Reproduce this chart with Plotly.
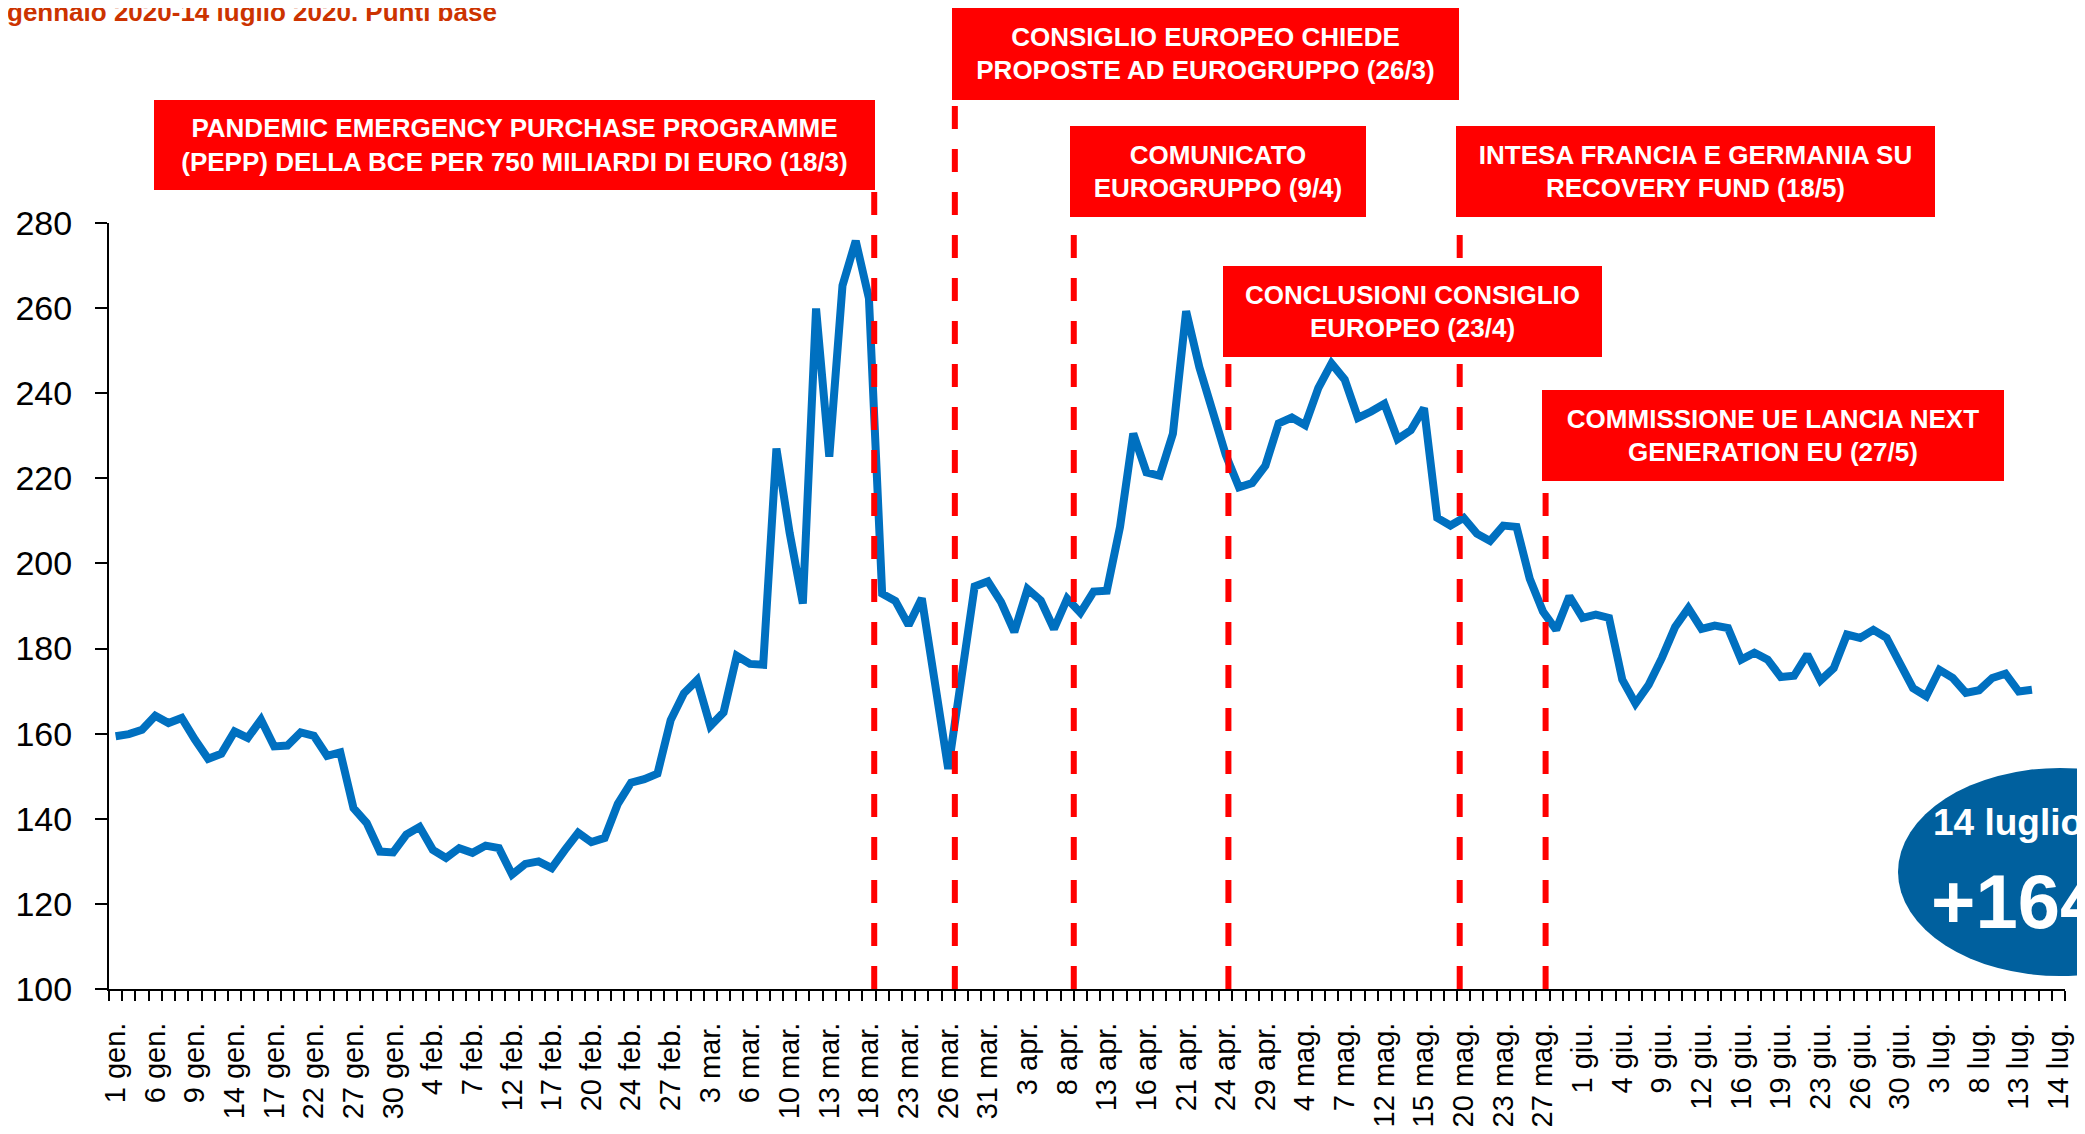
import plotly.graph_objects as go

# ---------------- data ----------------
spread = [
    159.4, 159.9, 160.9, 164.2, 162.5, 163.7, 158.6, 154.1, 155.3, 160.5,
    159.0, 163.3, 157.0, 157.2, 160.3, 159.5, 154.8, 155.6, 142.5, 139.0,
    132.3, 132.1, 136.3, 138.1, 132.7, 130.8, 133.1, 132.0, 133.7, 133.1,
    126.9, 129.4, 130.0, 128.4, 132.7, 136.7, 134.5, 135.5, 143.5, 148.5,
    149.3, 150.6, 163.2, 169.5, 172.6, 161.8, 165.0, 178.3, 176.4, 176.2,
    227.0, 207.2, 190.6, 259.9, 225.1, 265.3, 275.8, 262.3, 192.9, 191.2,
    185.5, 191.8, 171.8, 151.7, 173.2, 194.6, 195.8, 190.9, 183.9, 194.0,
    191.3, 184.6, 191.7, 188.4, 193.4, 193.6, 208.6, 230.5, 221.4, 220.6,
    230.5, 259.3, 246.1, 235.4, 225.5, 217.9, 218.9, 223.0, 232.9, 234.3,
    232.5, 241.2, 247.0, 243.2, 234.2, 235.7, 237.5, 229.2, 231.3, 236.5,
    210.7, 208.9, 210.7, 207.0, 205.3, 208.9, 208.6, 196.4, 188.7, 184.4,
    192.3, 187.2, 188.0, 187.2, 172.7, 167.1, 171.5, 177.8, 185.1, 189.5,
    184.6, 185.4, 184.8, 177.4, 179.0, 177.4, 173.3, 173.6, 178.6, 172.5,
    175.4, 183.3, 182.5, 184.4, 182.5, 176.6, 170.7, 168.8, 175.0, 173.1,
    169.6, 170.2, 173.1, 174.1, 169.9, 170.3,
]

tick_labels = [
    "1 gen.", "6 gen.", "9 gen.", "14 gen.", "17 gen.", "22 gen.", "27 gen.", "30 gen.",
    "4 feb.", "7 feb.", "12 feb.", "17 feb.", "20 feb.", "24 feb.", "27 feb.",
    "3 mar.", "6 mar.", "10 mar.", "13 mar.", "18 mar.", "23 mar.", "26 mar.", "31 mar.",
    "3 apr.", "8 apr.", "13 apr.", "16 apr.", "21 apr.", "24 apr.", "29 apr.",
    "4 mag.", "7 mag.", "12 mag.", "15 mag.", "20 mag.", "23 mag.", "27 mag.",
    "1 giu.", "4 giu.", "9 giu.", "12 giu.", "16 giu.", "19 giu.", "23 giu.", "26 giu.", "30 giu.",
    "3 lug.", "8 lug.", "13 lug.", "14 lug.",
]
label_step = 3
n_categories = 148

event_texts = [
    "PANDEMIC EMERGENCY PURCHASE PROGRAMME<br>(PEPP) DELLA BCE PER 750 MILIARDI DI EURO (18/3)",
    "CONSIGLIO EUROPEO CHIEDE<br>PROPOSTE AD EUROGRUPPO (26/3)",
    "COMUNICATO<br>EUROGRUPPO (9/4)",
    "CONCLUSIONI CONSIGLIO<br>EUROPEO (23/4)",
    "INTESA FRANCIA E GERMANIA SU<br>RECOVERY FUND (18/5)",
    "COMMISSIONE UE LANCIA NEXT<br>GENERATION EU (27/5)",
]
event_pos = [57.4, 63.5, 72.5, 84.2, 101.7, 108.2]  # category position of each event

title_text = "gennaio 2020-14 luglio 2020. Punti base"
badge_date = "14 luglio 2020"
badge_value = "+164"

# ---------------- layout geometry (pixels, in screenshot frame) ----------------
W, H = 2085, 1134
OFF = 8  # page body margin offset
PLOT_L, PLOT_R, PLOT_T, PLOT_B = 109, 2065, 223, 989
ML = PLOT_L - OFF
MT = PLOT_T - OFF
MR = W - (PLOT_R - OFF)
MB = H - (PLOT_B - OFF)
PW = PLOT_R - PLOT_L
PH = PLOT_B - PLOT_T

def xp(px):
    return (px - PLOT_L) / PW

def yp(py):
    return (PLOT_B - py) / PH

# red boxes: (left, top, right, bottom) in px, same order as event_texts
boxes = [
    (154, 100, 875, 190),
    (952, 7, 1459, 100),
    (1070, 126, 1366, 217),
    (1223, 266, 1602, 357),
    (1456, 126, 1935, 217),
    (1542, 390, 2004, 481),
]
FONT = "Liberation Sans, Arial, sans-serif"
RED = "#FF0000"

fig = go.Figure()
fig.add_trace(go.Scatter(
    x=list(range(len(spread))), y=spread, mode="lines",
    line=dict(color="#0070C0", width=8), hoverinfo="skip", showlegend=False,
))

shapes = []
annotations = []
for txt, pos, (l, t, r, b) in zip(event_texts, event_pos, boxes):
    shapes.append(dict(
        type="line", xref="x", yref="paper", x0=pos, x1=pos, y0=0, y1=yp(b),
        line=dict(color=RED, width=6, dash="23px,20px"), layer="above",
    ))
    annotations.append(dict(
        xref="paper", yref="paper", x=xp(l), y=yp(t), xanchor="left", yanchor="top",
        width=r - l, height=b - t, bgcolor=RED, borderpad=0, borderwidth=0,
        showarrow=False, align="center", valign="middle",
        text="<b>" + txt + "</b>",
        font=dict(family=FONT, size=26, color="white"),
    ))

# title (partially cut at top)
annotations.append(dict(
    xref="paper", yref="paper", x=xp(5), y=yp(12), xanchor="left", yanchor="middle",
    showarrow=False, text="<b>" + title_text + "</b>",
    font=dict(family=FONT, size=26, color="#CC3300"),
))

# badge ellipse
cx, cy, rx, ry = 2060, 872, 162, 104
shapes.append(dict(
    type="circle", xref="paper", yref="paper",
    x0=xp(cx - rx), x1=xp(cx + rx), y0=yp(cy + ry), y1=yp(cy - ry),
    fillcolor="#00609E", line=dict(width=0), layer="above",
))
annotations.append(dict(
    xref="paper", yref="paper", x=xp(1931), y=yp(822), xanchor="left", yanchor="middle",
    showarrow=False, text="<b>" + badge_date + "</b>",
    font=dict(family=FONT, size=37, color="white"),
))
annotations.append(dict(
    xref="paper", yref="paper", x=xp(1929), y=yp(901), xanchor="left", yanchor="middle",
    showarrow=False, text="<b>" + badge_value + "</b>",
    font=dict(family=FONT, size=76, color="white"),
))

tickvals = list(range(0, n_categories, label_step))

fig.update_layout(
    width=W, height=H,
    margin=dict(l=ML, r=MR, t=MT, b=MB),
    paper_bgcolor="white", plot_bgcolor="white",
    shapes=shapes, annotations=annotations,
    font=dict(family=FONT, color="black"),
    xaxis=dict(
        range=[-0.5, n_categories - 0.5], automargin=False,
        tickmode="array", tickvals=tickvals, ticktext=tick_labels,
        ticks="", tickangle=-90, tickfont=dict(size=29, family=FONT, color="black"),
        showline=True, linecolor="black", linewidth=2,
        showgrid=False, zeroline=False, ticklabelstandoff=20,
        minor=dict(ticks="outside", tickmode="linear", tick0=-0.5, dtick=1,
                   ticklen=10, tickwidth=2, tickcolor="black", showgrid=False),
    ),
    yaxis=dict(
        range=[100, 280], tickmode="linear", tick0=100, dtick=20, automargin=False,
        ticks="outside", ticklen=12, tickwidth=2, tickcolor="black",
        tickfont=dict(size=34, family=FONT, color="black"),
        showline=True, linecolor="black", linewidth=2,
        showgrid=False, zeroline=False, ticklabelstandoff=16,
    ),
)

fig.write_html("out.html")
